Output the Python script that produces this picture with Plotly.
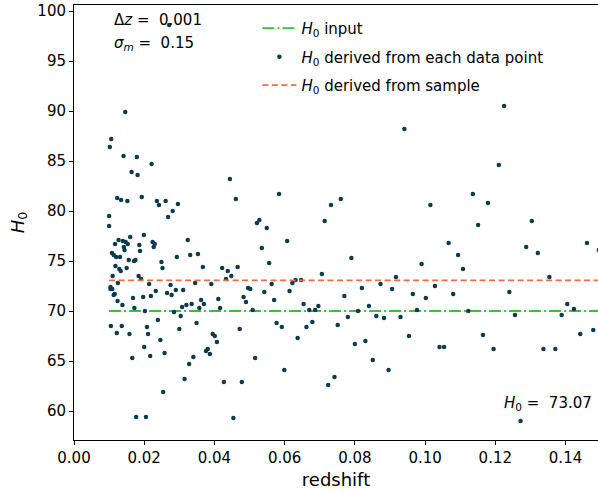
import plotly.graph_objects as go

redshift = [
    0.0146, 0.0106, 0.0102, 0.0141, 0.0179, 0.0221, 0.0164, 0.0181, 0.0123, 0.0134,
    0.0152, 0.0193, 0.0236, 0.0242, 0.0261, 0.0296, 0.0281, 0.0268, 0.0100, 0.0100,
    0.0127, 0.0139, 0.0147, 0.0153, 0.0160, 0.0199, 0.0117, 0.0142, 0.0144, 0.0186,
    0.0188, 0.0224, 0.0230, 0.0227, 0.0324, 0.0108, 0.0113, 0.0120, 0.0131, 0.0156,
    0.0171, 0.0175, 0.0249, 0.0293, 0.0331, 0.0353, 0.0118, 0.0129, 0.0150, 0.0252,
    0.0367,
    0.0133, 0.0110, 0.0184, 0.0191, 0.0125, 0.0214, 0.0275, 0.0345, 0.0104, 0.0104,
    0.0109, 0.0116, 0.0113, 0.0233, 0.0265, 0.0278, 0.0290, 0.0311, 0.0168, 0.0197,
    0.0219, 0.0124, 0.0138, 0.0172, 0.0202, 0.0285, 0.0308, 0.0320, 0.0335, 0.0357,
    0.0362, 0.0370, 0.0304, 0.0239, 0.0349, 0.0105, 0.0136, 0.0208, 0.0300, 0.0122,
    0.0158, 0.0211, 0.0246, 0.0200, 0.0258, 0.0217, 0.0166, 0.0340, 0.0328, 0.0315,
    0.0254, 0.0177, 0.0205,
    0.0271,
    0.0444, 0.0461, 0.0584, 0.0528, 0.0521, 0.0549, 0.0714, 0.0607, 0.0535, 0.0556,
    0.0422, 0.0466,
    0.0438, 0.0448, 0.0433, 0.0706, 0.0391, 0.0563, 0.0622, 0.0631, 0.0647, 0.0496,
    0.0502, 0.0542, 0.0614, 0.0411, 0.0483, 0.0490, 0.0570, 0.0654, 0.0696, 0.0416,
    0.0509, 0.0670, 0.0687, 0.0577, 0.0592, 0.0679, 0.0662, 0.0472, 0.0395, 0.0401,
    0.0407, 0.0637, 0.0381, 0.0376, 0.0387, 0.0516, 0.0599, 0.0427, 0.0478, 0.0724,
    0.0454,
    0.0941, 0.0732, 0.0760, 0.1015, 0.1067, 0.1094, 0.0790, 0.0990, 0.1108,
    0.0917, 0.0873, 0.0820, 0.0906, 0.1028, 0.0770, 0.0965, 0.1080, 0.1002, 0.0840,
    0.0809, 0.0977, 0.0861, 0.0883, 0.0930, 0.0780, 0.0751, 0.0954, 0.0800, 0.0830,
    0.1041, 0.1054, 0.0851, 0.0896, 0.0742,
    0.1225, 0.1210, 0.1136, 0.1179, 0.1151, 0.1304, 0.1288, 0.1321, 0.1461, 0.1495,
    0.1354, 0.1240, 0.1123, 0.1256, 0.1405, 0.1424, 0.1389, 0.1165, 0.1195, 0.1337,
    0.1371, 0.1442, 0.1479, 0.1272,
]

h0_points = [
    89.9, 87.2, 86.4, 85.5, 85.4, 84.7, 83.9, 83.6, 81.3, 81.1,
    81.0, 81.4, 81.0, 80.6, 81.0, 80.7, 80.0, 79.4, 79.5, 78.5,
    77.1, 77.0, 76.9, 76.7, 77.4, 77.6, 76.7, 76.4, 76.1, 76.6,
    76.0, 76.9, 76.7, 76.4, 77.1, 75.8, 75.6, 75.4, 75.4, 75.1,
    75.0, 75.1, 74.9, 75.4, 75.6, 75.7, 74.5, 74.2, 74.3, 74.3,
    74.4,
    74.0, 73.5, 73.5, 73.2, 72.8, 72.7, 72.6, 72.8, 72.4, 72.2,
    72.2, 71.7, 71.6, 72.0, 71.8, 71.6, 72.1, 72.1, 71.3, 71.4,
    71.5, 71.0, 70.6, 70.3, 70.0, 69.9, 70.4, 70.6, 70.7, 70.3,
    71.1, 70.7, 69.5, 69.1, 68.8, 68.5, 68.5, 68.4, 68.2, 67.8,
    67.7, 67.7, 67.1, 66.4, 65.8, 65.5, 65.3, 65.4, 64.7, 63.2,
    61.9, 59.4, 59.4,
    98.6,
    83.2, 81.2, 81.7, 79.1, 78.8, 78.3, 79.0, 77.0, 76.3, 74.8,
    74.3, 74.4,
    74.0, 73.5, 73.2, 73.7, 72.7, 72.7, 72.8, 73.1, 73.1, 72.3,
    72.2, 71.9, 72.0, 71.2, 71.4, 70.9, 71.1, 70.7, 70.5, 70.3,
    70.1, 70.1, 70.1, 68.8, 68.4, 68.9, 68.4, 68.2, 67.7, 67.5,
    66.9, 67.3, 66.2, 66.0, 65.7, 65.3, 64.1, 62.9, 62.9, 62.6,
    59.3,
    88.2, 80.6, 81.2, 80.6, 76.8, 75.6, 75.3, 74.7, 74.2,
    73.4, 72.7, 72.3, 72.2, 72.5, 71.5, 71.7, 71.7, 71.3, 70.5,
    70.0, 70.1, 69.5, 69.3, 69.4, 69.4, 68.6, 67.5, 66.7, 67.0,
    66.4, 66.4, 65.1, 64.1, 63.4,
    90.5, 84.6, 81.7, 80.8, 78.6, 79.0, 76.4, 75.8, 76.8, 76.1,
    73.4, 71.9, 70.0, 69.6, 70.7, 70.2, 69.6, 67.6, 66.2, 66.2,
    66.2, 67.7, 68.1, 59.0,
]

line_z = [0.01, 0.15]
h0_input = 70.0
h0_sample = 73.07
delta_z = 0.001
sigma_m = 0.15

FONT = "DejaVu Sans"
GREEN = "#33c433"
ORANGE = "#f26b45"
DOT = "#0b3b4e"

fig = go.Figure()
fig.add_trace(go.Scatter(
    x=line_z, y=[h0_input] * len(line_z), mode="lines",
    line=dict(color=GREEN, width=1.8, dash="12px,3px,2px,3px"),
    name="<i>H</i><sub>0</sub> input", legendgroup="a",
))
fig.add_trace(go.Scatter(
    x=redshift, y=h0_points, mode="markers",
    marker=dict(color=DOT, size=4.5),
    name="<i>H</i><sub>0</sub> derived from each data point", legendgroup="b",
))
fig.add_trace(go.Scatter(
    x=line_z, y=[h0_sample] * len(line_z), mode="lines",
    line=dict(color=ORANGE, width=1.8, dash="6px,3.5px"),
    name="<i>H</i><sub>0</sub> derived from sample", legendgroup="c",
))

fig.update_layout(
    width=598, height=493,
    margin=dict(l=74, r=0, t=5, b=53),
    plot_bgcolor="white", paper_bgcolor="white",
    font=dict(family=FONT, size=15, color="black"),
    showlegend=True,
    legend=dict(
        x=0.35, y=0.984, xanchor="left", yanchor="top",
        bgcolor="rgba(0,0,0,0)", font=dict(size=15),
        tracegroupgap=6, itemwidth=34,
    ),
    xaxis=dict(
        range=[0, 0.14925], showgrid=False, zeroline=False,
        showline=True, linecolor="black", linewidth=1, mirror=True,
        ticks="outside", ticklen=4, tickcolor="black",
        tickvals=[0.0, 0.02, 0.04, 0.06, 0.08, 0.10, 0.12, 0.14],
        tickformat=".2f", tickfont=dict(size=15),
        title=dict(text="redshift", font=dict(size=18), standoff=7),
    ),
    yaxis=dict(
        range=[57.1, 100.6], showgrid=False, zeroline=False,
        showline=True, linecolor="black", linewidth=1,
        ticks="outside", ticklen=4, tickcolor="black",
        tickvals=[60, 65, 70, 75, 80, 85, 90, 95, 100],
        tickfont=dict(size=15),
        title=dict(text="<i>H</i><sub>0</sub>", font=dict(size=18), standoff=8),
    ),
    annotations=[
        dict(x=0.073, y=0.99, xref="paper", yref="paper", xanchor="left", yanchor="top",
             text=f"Δ<i>z</i> =  {delta_z}", showarrow=False, font=dict(size=15)),
        dict(x=0.073, y=0.937, xref="paper", yref="paper", xanchor="left", yanchor="top",
             text=f"<i>σ<sub>m</sub></i> =  {sigma_m}", showarrow=False, font=dict(size=15)),
        dict(x=0.992, y=0.058, xref="paper", yref="paper", xanchor="right", yanchor="bottom",
             text=f"<i>H</i><sub>0</sub> =  {h0_sample:.2f}", showarrow=False, font=dict(size=15)),
    ],
)

fig.write_html("out.html", config={"displayModeBar": False},
               post_script="document.body.style.margin='0';")
